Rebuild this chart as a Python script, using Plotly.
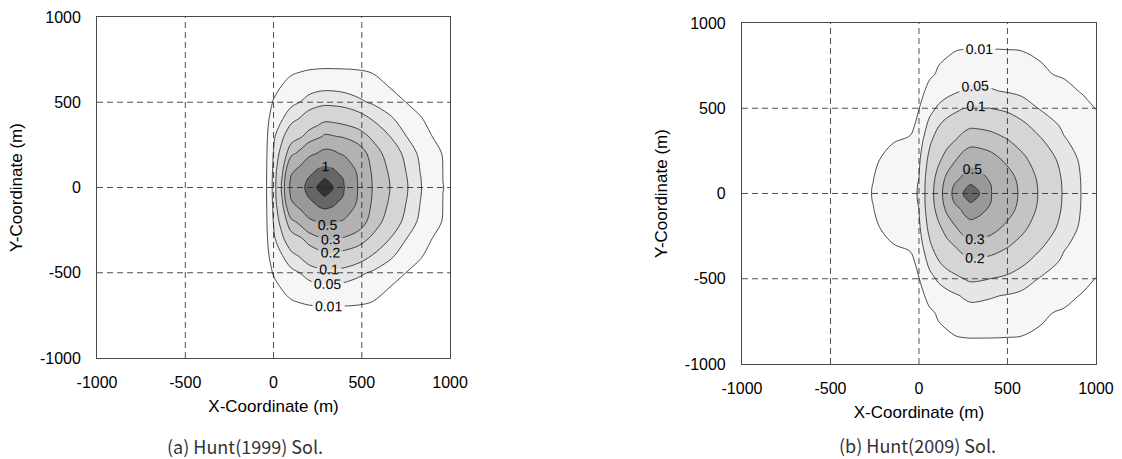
import plotly.graph_objects as go

# ---------------- data ----------------
levels = [0.01, 0.05, 0.1, 0.2, 0.3, 0.5, 1, 2]
fill_colors = ['#f6f6f6', '#e6e6e6', '#d5d5d5', '#c4c4c4', '#b2b2b2',
               '#999999', '#666666', '#333333']

tick_vals = [-1000, -500, 0, 500, 1000]
tick_text = ['-1000', '-500', '0', '500', '1000']
grid_vals = [-500, 0, 500]

# (a) Hunt(1999) grid and field
x_a = [-1000, -100, -40, 0, 50, 100, 150, 200, 250, 290, 340, 400, 480, 560,
       650, 750, 830, 900, 960, 1000]
y_a = [-1000, -800, -700, -600, -500, -400, -300, -200, -100, -50, 0, 50, 100,
       200, 300, 400, 500, 600, 700, 800, 1000]
z_a = [
    [0, 0, 0, 0.0003, 0.0005, 0.0007, 0.0008, 0.0009, 0.001, 0.001, 0.001, 0.001, 0.0009, 0.0008, 0.0007, 0.0006, 0.0005, 0.0004, 0.0003, 0.0003],
    [0, 0, 0.0001, 0.001, 0.0018, 0.0025, 0.0031, 0.0039, 0.0045, 0.0047, 0.0047, 0.0044, 0.0039, 0.0036, 0.0031, 0.0024, 0.0018, 0.0011, 0.0008, 0.0007],
    [0, 0, 0.0002, 0.0018, 0.0036, 0.0051, 0.0063, 0.0078, 0.0088, 0.0093, 0.0092, 0.0089, 0.0081, 0.0069, 0.0052, 0.0036, 0.0029, 0.0022, 0.0016, 0.0011],
    [0, 0, 0.0004, 0.004, 0.0102, 0.0164, 0.022, 0.0289, 0.0334, 0.0352, 0.0346, 0.0321, 0.026, 0.0171, 0.0091, 0.0065, 0.0041, 0.0033, 0.0026, 0.0022],
    [0, 0, 0.0014, 0.0115, 0.0237, 0.0373, 0.0505, 0.0665, 0.0774, 0.0816, 0.080, 0.0739, 0.0592, 0.044, 0.0291, 0.0099, 0.0073, 0.0048, 0.0036, 0.0031],
    [0, 0, 0.0027, 0.0233, 0.049, 0.082, 0.106, 0.138, 0.16, 0.18, 0.175, 0.162, 0.132, 0.097, 0.06, 0.031, 0.0108, 0.0075, 0.0051, 0.0038],
    [0, 0, 0.0048, 0.0414, 0.089, 0.15, 0.185, 0.235, 0.27, 0.315, 0.305, 0.285, 0.25, 0.18, 0.105, 0.051, 0.028, 0.0097, 0.0071, 0.0055],
    [0, 0, 0.0071, 0.052, 0.13, 0.27, 0.33, 0.42, 0.51, 0.56, 0.54, 0.46, 0.36, 0.26, 0.16, 0.08, 0.041, 0.019, 0.0087, 0.0069],
    [0, 0, 0.0087, 0.057, 0.185, 0.46, 0.56, 0.8, 1.05, 1.15, 1.05, 0.76, 0.44, 0.283, 0.195, 0.099, 0.0495, 0.026, 0.0097, 0.0079],
    [0, 0, 0.0092, 0.059, 0.21, 0.53, 0.7, 1.05, 1.7, 2.05, 1.62, 0.93, 0.47, 0.294, 0.205, 0.105, 0.052, 0.0278, 0.0099, 0.0081],
    [0, 0, 0.0093, 0.06, 0.22, 0.56, 0.78, 1.2, 2.1, 3.2, 1.95, 1.02, 0.48, 0.298, 0.21, 0.108, 0.053, 0.0284, 0.0102, 0.0082],
    [0, 0, 0.0092, 0.059, 0.21, 0.53, 0.7, 1.05, 1.7, 2.05, 1.62, 0.93, 0.47, 0.294, 0.205, 0.105, 0.052, 0.0278, 0.0099, 0.0081],
    [0, 0, 0.0087, 0.057, 0.185, 0.46, 0.56, 0.8, 1.05, 1.15, 1.05, 0.76, 0.44, 0.283, 0.195, 0.099, 0.0495, 0.026, 0.0097, 0.0079],
    [0, 0, 0.0071, 0.052, 0.13, 0.27, 0.33, 0.42, 0.51, 0.56, 0.54, 0.46, 0.36, 0.26, 0.16, 0.08, 0.041, 0.019, 0.0087, 0.0069],
    [0, 0, 0.0048, 0.0414, 0.089, 0.15, 0.185, 0.235, 0.27, 0.315, 0.305, 0.285, 0.25, 0.18, 0.105, 0.051, 0.028, 0.0097, 0.0071, 0.0055],
    [0, 0, 0.0027, 0.0233, 0.049, 0.082, 0.106, 0.138, 0.16, 0.18, 0.175, 0.162, 0.132, 0.097, 0.06, 0.031, 0.0108, 0.0075, 0.0051, 0.0038],
    [0, 0, 0.0014, 0.0115, 0.0237, 0.0373, 0.0505, 0.0665, 0.0774, 0.0816, 0.080, 0.0739, 0.0592, 0.044, 0.0291, 0.0099, 0.0073, 0.0048, 0.0036, 0.0031],
    [0, 0, 0.0004, 0.004, 0.0102, 0.0164, 0.022, 0.0289, 0.0334, 0.0352, 0.0346, 0.0321, 0.026, 0.0171, 0.0091, 0.0065, 0.0041, 0.0033, 0.0026, 0.0022],
    [0, 0, 0.0002, 0.0018, 0.0036, 0.0051, 0.0063, 0.0078, 0.0088, 0.0093, 0.0092, 0.0089, 0.0081, 0.0069, 0.0052, 0.0036, 0.0029, 0.0022, 0.0016, 0.0011],
    [0, 0, 0.0001, 0.001, 0.0018, 0.0025, 0.0031, 0.0039, 0.0045, 0.0047, 0.0047, 0.0044, 0.0039, 0.0036, 0.0031, 0.0024, 0.0018, 0.0011, 0.0008, 0.0007],
    [0, 0, 0, 0.0003, 0.0005, 0.0007, 0.0008, 0.0009, 0.001, 0.001, 0.001, 0.001, 0.0009, 0.0008, 0.0007, 0.0006, 0.0005, 0.0004, 0.0003, 0.0003],
]

# (b) Hunt(2009) grid and field
x_b = [-1000, -400, -260, -150, -50, 0, 30, 60, 110, 160, 210, 250, 290, 330,
       410, 500, 580, 690, 820, 920, 1000]
y_b = [-1000, -850, -700, -600, -500, -400, -300, -200, -100, -50, 0, 50, 100,
       200, 300, 400, 500, 600, 700, 850, 1000]
z_b = [
    [0, 0, 0, 0, 0, 0.0008, 0.0013, 0.002, 0.0029, 0.0035, 0.004, 0.0046, 0.005, 0.005, 0.0048, 0.0045, 0.0042, 0.0037, 0.0029, 0.0024, 0.002],
    [0, 0, 0, 0, 0, 0.0016, 0.0027, 0.004, 0.0058, 0.005, 0.0081, 0.0092, 0.0098, 0.0097, 0.0096, 0.0091, 0.0084, 0.0072, 0.0052, 0.0042, 0.0034],
    [0, 0, 0, 0, 0.0005, 0.0035, 0.006, 0.007, 0.012, 0.02, 0.0288, 0.0328, 0.0359, 0.0357, 0.0341, 0.0306, 0.0259, 0.0125, 0.0075, 0.007, 0.0051],
    [0, 0, 0, 0.0005, 0.001, 0.0055, 0.0095, 0.016, 0.0301, 0.0379, 0.0459, 0.0533, 0.0585, 0.0579, 0.0529, 0.0471, 0.0417, 0.0322, 0.0165, 0.0085, 0.0074],
    [0, 0, 0.0005, 0.0012, 0.002, 0.0095, 0.018, 0.0368, 0.0563, 0.0714, 0.0855, 0.0993, 0.109, 0.1079, 0.099, 0.0855, 0.0689, 0.0462, 0.031, 0.0182, 0.0095],
    [0, 0, 0.0015, 0.003, 0.004, 0.016, 0.0392, 0.0623, 0.0965, 0.124, 0.147, 0.169, 0.1848, 0.1833, 0.1715, 0.1456, 0.1136, 0.0747, 0.0421, 0.028, 0.016],
    [0, 0.0005, 0.004, 0.0095, 0.014, 0.0326, 0.058, 0.0908, 0.140, 0.178, 0.211, 0.243, 0.2667, 0.2644, 0.2475, 0.2115, 0.1717, 0.1091, 0.0551, 0.0363, 0.0237],
    [0, 0.001, 0.0068, 0.016, 0.028, 0.0424, 0.0754, 0.118, 0.181, 0.241, 0.297, 0.349, 0.3845, 0.379, 0.338, 0.2744, 0.2231, 0.149, 0.0743, 0.0426, 0.0294],
    [0, 0.0015, 0.0092, 0.022, 0.038, 0.0496, 0.088, 0.141, 0.233, 0.318, 0.398, 0.530, 0.632, 0.576, 0.446, 0.339, 0.261, 0.1755, 0.0871, 0.0466, 0.0329],
    [0, 0.0018, 0.0102, 0.0245, 0.041, 0.0516, 0.092, 0.151, 0.250, 0.343, 0.553, 0.825, 1.03, 0.897, 0.483, 0.362, 0.2714, 0.1825, 0.0904, 0.0476, 0.0338],
    [0, 0.002, 0.0105, 0.025, 0.042, 0.0523, 0.093, 0.154, 0.256, 0.353, 0.639, 1.012, 1.5, 1.1, 0.497, 0.370, 0.275, 0.185, 0.0915, 0.0479, 0.0341],
    [0, 0.0018, 0.0102, 0.0245, 0.041, 0.0516, 0.092, 0.151, 0.250, 0.343, 0.553, 0.825, 1.03, 0.897, 0.483, 0.362, 0.2714, 0.1825, 0.0904, 0.0476, 0.0338],
    [0, 0.0015, 0.0092, 0.022, 0.038, 0.0496, 0.088, 0.141, 0.233, 0.318, 0.398, 0.530, 0.632, 0.576, 0.446, 0.339, 0.261, 0.1755, 0.0871, 0.0466, 0.0329],
    [0, 0.001, 0.0068, 0.016, 0.028, 0.0424, 0.0754, 0.118, 0.181, 0.241, 0.297, 0.349, 0.3845, 0.379, 0.338, 0.2744, 0.2231, 0.149, 0.0743, 0.0426, 0.0294],
    [0, 0.0005, 0.004, 0.0095, 0.014, 0.0326, 0.058, 0.0908, 0.140, 0.178, 0.211, 0.243, 0.2667, 0.2644, 0.2475, 0.2115, 0.1717, 0.1091, 0.0551, 0.0363, 0.0237],
    [0, 0, 0.0015, 0.003, 0.004, 0.016, 0.0392, 0.0623, 0.0965, 0.124, 0.147, 0.169, 0.1848, 0.1833, 0.1715, 0.1456, 0.1136, 0.0747, 0.0421, 0.028, 0.016],
    [0, 0, 0.0005, 0.0012, 0.002, 0.0095, 0.018, 0.0368, 0.0563, 0.0714, 0.0855, 0.0993, 0.109, 0.1079, 0.099, 0.0855, 0.0689, 0.0462, 0.031, 0.0182, 0.0095],
    [0, 0, 0, 0.0005, 0.001, 0.0055, 0.0095, 0.016, 0.0301, 0.0379, 0.0459, 0.0533, 0.0585, 0.0579, 0.0529, 0.0471, 0.0417, 0.0322, 0.0165, 0.0085, 0.0074],
    [0, 0, 0, 0, 0.0005, 0.0035, 0.006, 0.007, 0.012, 0.02, 0.0288, 0.0328, 0.0359, 0.0357, 0.0341, 0.0306, 0.0259, 0.0125, 0.0075, 0.007, 0.0051],
    [0, 0, 0, 0, 0, 0.0016, 0.0027, 0.004, 0.0058, 0.005, 0.0081, 0.0092, 0.0098, 0.0097, 0.0096, 0.0091, 0.0084, 0.0072, 0.0052, 0.0042, 0.0034],
    [0, 0, 0, 0, 0, 0.0008, 0.0013, 0.002, 0.0029, 0.0035, 0.004, 0.0046, 0.005, 0.005, 0.0048, 0.0045, 0.0042, 0.0037, 0.0029, 0.0024, 0.002],
]

captions = ['(a) Hunt(1999) Sol.', '(b) Hunt(2009) Sol.']
x_title = 'X-Coordinate (m)'
y_title = 'Y-Coordinate (m)'

# ---------------- figure ----------------
fig = go.Figure()

panels = [('x', 'y', x_a, y_a, z_a), ('x2', 'y2', x_b, y_b, z_b)]
for xr, yr, xs, ys, zs in panels:
    # filled bands (constraint fill shades where z >= level), low to high
    for lev, col in zip(levels, fill_colors):
        fig.add_trace(go.Contour(
            x=xs, y=ys, z=zs, xaxis=xr, yaxis=yr,
            contours=dict(type='constraint', operation='<', value=lev),
            fillcolor=col, line=dict(width=0, color=col),
            showscale=False, hoverinfo='skip', showlegend=False))
    # contour lines with labels
    for lev in levels:
        fig.add_trace(go.Contour(
            x=xs, y=ys, z=zs, xaxis=xr, yaxis=yr,
            autocontour=False,
            contours=dict(start=lev, end=lev, size=1, coloring='none',
                          showlabels=True,
                          labelfont=dict(family='Liberation Sans', size=14,
                                         color='black')),
            line=dict(color='#222222', width=0.8),
            showscale=False, hoverinfo='skip', showlegend=False))

TICK_FONT = dict(family='Liberation Sans', size=16, color='black')
TITLE_FONT = dict(family='Liberation Sans', size=17, color='black')
axis_common = dict(range=[-1000, 1000], tickvals=tick_vals, ticktext=tick_text,
                   showgrid=False, zeroline=False, showline=True, mirror=True,
                   linecolor='#4a4a4a', linewidth=1, ticks='',
                   automargin=False, tickfont=TICK_FONT)

fig.update_layout(
    width=1122, height=459,
    margin=dict(l=0, r=0, t=0, b=0, autoexpand=False),
    paper_bgcolor='white', plot_bgcolor='white',
    xaxis=dict(domain=[0.0865, 0.4011], anchor='y', ticklabelstandoff=10,
               title=dict(text=x_title, standoff=9, font=TITLE_FONT),
               **axis_common),
    yaxis=dict(domain=[0.22, 0.963], anchor='x', ticklabelstandoff=12,
               title=dict(text=y_title, standoff=12, font=TITLE_FONT),
               **axis_common),
    xaxis2=dict(domain=[0.6613, 0.9768], anchor='y2', ticklabelstandoff=10,
                title=dict(text=x_title, standoff=9, font=TITLE_FONT),
                **axis_common),
    yaxis2=dict(domain=[0.207, 0.9499], anchor='x2', ticklabelstandoff=12,
                title=dict(text=y_title, standoff=12, font=TITLE_FONT),
                **axis_common),
)

# dashed grid lines drawn above the filled contours, at the inner tick values
shapes = []
for xr, yr in [('x', 'y'), ('x2', 'y2')]:
    for g in grid_vals:
        shapes.append(dict(type='line', xref=xr, yref=yr + ' domain', x0=g, x1=g,
                           y0=0, y1=1, layer='above',
                           line=dict(color='#222222', width=0.8, dash='6px,4px')))
        shapes.append(dict(type='line', xref=xr + ' domain', yref=yr, x0=0, x1=1,
                           y0=g, y1=g, layer='above',
                           line=dict(color='#222222', width=0.8, dash='6px,4px')))
fig.update_layout(shapes=shapes)

CAP_FONT = dict(family='Noto Sans CJK KR', size=18, color='#333333')
fig.add_annotation(text=captions[0], xref='paper', yref='paper', x=0.2185, y=0.029,
                   showarrow=False, xanchor='center', yanchor='middle', font=CAP_FONT)
fig.add_annotation(text=captions[1], xref='paper', yref='paper', x=0.8173, y=0.031,
                   showarrow=False, xanchor='center', yanchor='middle', font=CAP_FONT)

fig.write_html('out.html')
